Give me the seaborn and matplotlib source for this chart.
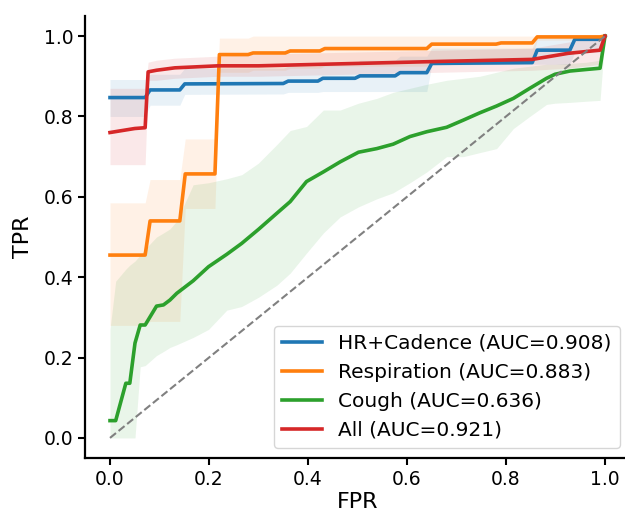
import numpy as np
import pandas as pd
import matplotlib
matplotlib.use("Agg")
import matplotlib.pyplot as plt
import seaborn as sns

# ---------------- data ----------------
hr_fpr = [0, 0.071, 0.081, 0.141, 0.151, 0.35, 0.36, 0.42, 0.43, 0.495, 0.505,
          0.576, 0.586, 0.64, 0.65, 0.853, 0.863, 0.929, 0.939, 0.99, 1.0]
hr_tpr = [0.847, 0.847, 0.866, 0.866, 0.881, 0.882, 0.888, 0.888, 0.895, 0.895, 0.901,
          0.901, 0.909, 0.909, 0.932, 0.934, 0.965, 0.965, 0.992, 0.992, 1.0]
hr_lo = [0.80, 0.80, 0.828, 0.828, 0.855, 0.856, 0.86, 0.86, 0.862, 0.862, 0.862,
         0.862, 0.862, 0.862, 0.928, 0.93, 0.93, 0.93, 0.96, 0.96, 1.0]
hr_hi = [0.892, 0.892, 0.905, 0.905, 0.92, 0.92, 0.925, 0.925, 0.93, 0.93, 0.94,
         0.94, 0.95, 0.95, 0.97, 0.97, 1.0, 1.0, 1.0, 1.0, 1.0]

resp_fpr = [0, 0.071, 0.081, 0.141, 0.152, 0.212, 0.221, 0.279, 0.289, 0.354, 0.364,
            0.424, 0.434, 0.64, 0.65, 0.78, 0.79, 0.853, 0.863, 0.99, 1.0]
resp_tpr = [0.455, 0.455, 0.54, 0.54, 0.657, 0.657, 0.954, 0.954, 0.958, 0.958, 0.963,
            0.963, 0.969, 0.969, 0.98, 0.98, 0.983, 0.983, 0.998, 0.998, 1.0]
resp_lo = [0.28, 0.28, 0.29, 0.29, 0.571, 0.571, 0.91, 0.91, 0.915, 0.915, 0.92,
           0.92, 0.925, 0.925, 0.94, 0.94, 0.945, 0.945, 0.99, 0.99, 1.0]
resp_hi = [0.585, 0.585, 0.643, 0.643, 0.744, 0.744, 0.995, 0.995, 1.0, 1.0, 1.0,
           1.0, 1.0, 1.0, 1.0, 1.0, 1.0, 1.0, 1.0, 1.0, 1.0]

cough_fpr = [0, 0.0115, 0.032, 0.040, 0.0505, 0.061, 0.071, 0.094, 0.108, 0.121,
             0.135, 0.168, 0.199, 0.236, 0.266, 0.30, 0.337, 0.364, 0.397, 0.431,
             0.465, 0.502, 0.539, 0.572, 0.606, 0.64, 0.68, 0.714, 0.747, 0.781,
             0.815, 0.848, 0.882, 0.899, 0.929, 0.963, 0.99, 1.0]
cough_tpr = [0.043, 0.043, 0.136, 0.136, 0.236, 0.281, 0.281, 0.328, 0.331, 0.343,
             0.36, 0.391, 0.426, 0.457, 0.484, 0.519, 0.559, 0.588, 0.638, 0.662,
             0.687, 0.711, 0.72, 0.731, 0.75, 0.762, 0.773, 0.791, 0.809, 0.826,
             0.845, 0.87, 0.895, 0.905, 0.913, 0.917, 0.92, 1.0]
cough_lo = [0.0, 0.0, 0.0, 0.0, 0.0, 0.177, 0.18, 0.205, 0.215, 0.225,
            0.232, 0.25, 0.27, 0.318, 0.327, 0.35, 0.38, 0.41, 0.46, 0.51,
            0.55, 0.575, 0.595, 0.61, 0.635, 0.662, 0.70, 0.70, 0.71, 0.72,
            0.77, 0.80, 0.83, 0.833, 0.835, 0.838, 0.84, 1.0]
cough_hi = [0.27, 0.39, 0.42, 0.43, 0.44, 0.455, 0.47, 0.50, 0.51, 0.52,
            0.54, 0.63, 0.635, 0.645, 0.655, 0.684, 0.73, 0.765, 0.775, 0.816,
            0.816, 0.833, 0.845, 0.86, 0.87, 0.88, 0.89, 0.895, 0.90, 0.91,
            0.92, 0.925, 0.93, 0.93, 0.932, 0.935, 0.94, 1.0]

all_fpr = [0, 0.05, 0.071, 0.077, 0.094, 0.131, 0.218, 0.30, 0.667, 0.853, 0.925, 0.99, 1.0]
all_tpr = [0.76, 0.77, 0.772, 0.911, 0.915, 0.921, 0.926, 0.926, 0.937, 0.942, 0.957, 0.965, 1.0]
all_lo = [0.68, 0.68, 0.68, 0.89, 0.89, 0.895, 0.90, 0.90, 0.91, 0.915, 0.92, 0.93, 1.0]
all_hi = [0.87, 0.87, 0.87, 0.935, 0.94, 0.945, 0.95, 0.955, 0.965, 0.97, 0.985, 1.0, 1.0]

labels = ["HR+Cadence (AUC=0.908)", "Respiration (AUC=0.883)",
          "Cough (AUC=0.636)", "All (AUC=0.921)"]
colors = ["#1f77b4", "#ff7f0e", "#2ca02c", "#d62728"]

series = [
    (hr_fpr, hr_tpr, hr_lo, hr_hi),
    (resp_fpr, resp_tpr, resp_lo, resp_hi),
    (cough_fpr, cough_tpr, cough_lo, cough_hi),
    (all_fpr, all_tpr, all_lo, all_hi),
]

# ---------------- plot ----------------
fig = plt.figure(figsize=(6.25, 5.14), dpi=100)
ax = fig.add_axes([85.25 / 625, 56 / 514, 544.5 / 625, 442 / 514])

for (f, t, lo, hi), lab, col in zip(series, labels, colors):
    df = pd.DataFrame({"FPR": f, "TPR": t})
    sns.lineplot(data=df, x="FPR", y="TPR", ax=ax, color=col, lw=2.6,
                 label=lab, estimator=None, sort=False)
    ax.fill_between(f, lo, hi, color=col, alpha=0.1, lw=0)

diag = pd.DataFrame({"FPR": [0, 1], "TPR": [0, 1]})
sns.lineplot(data=diag, x="FPR", y="TPR", ax=ax, color="gray", lw=1.5,
             linestyle="--", estimator=None)

ax.set_xlim(-0.05, 1.05)
ax.set_ylim(-0.05, 1.05)
ax.set_xticks(np.arange(0, 1.01, 0.2))
ax.set_yticks(np.arange(0, 1.01, 0.2))
ax.tick_params(labelsize=13.5, width=1.5, length=5)
for s in ["left", "bottom"]:
    ax.spines[s].set_linewidth(1.6)
sns.despine(ax=ax)
ax.set_xlabel("FPR", fontsize=16, labelpad=2)
ax.set_ylabel("TPR", fontsize=16, labelpad=8)

ax.legend(loc="lower right", fontsize=14.5)

fig.savefig("out.png", dpi=100)
